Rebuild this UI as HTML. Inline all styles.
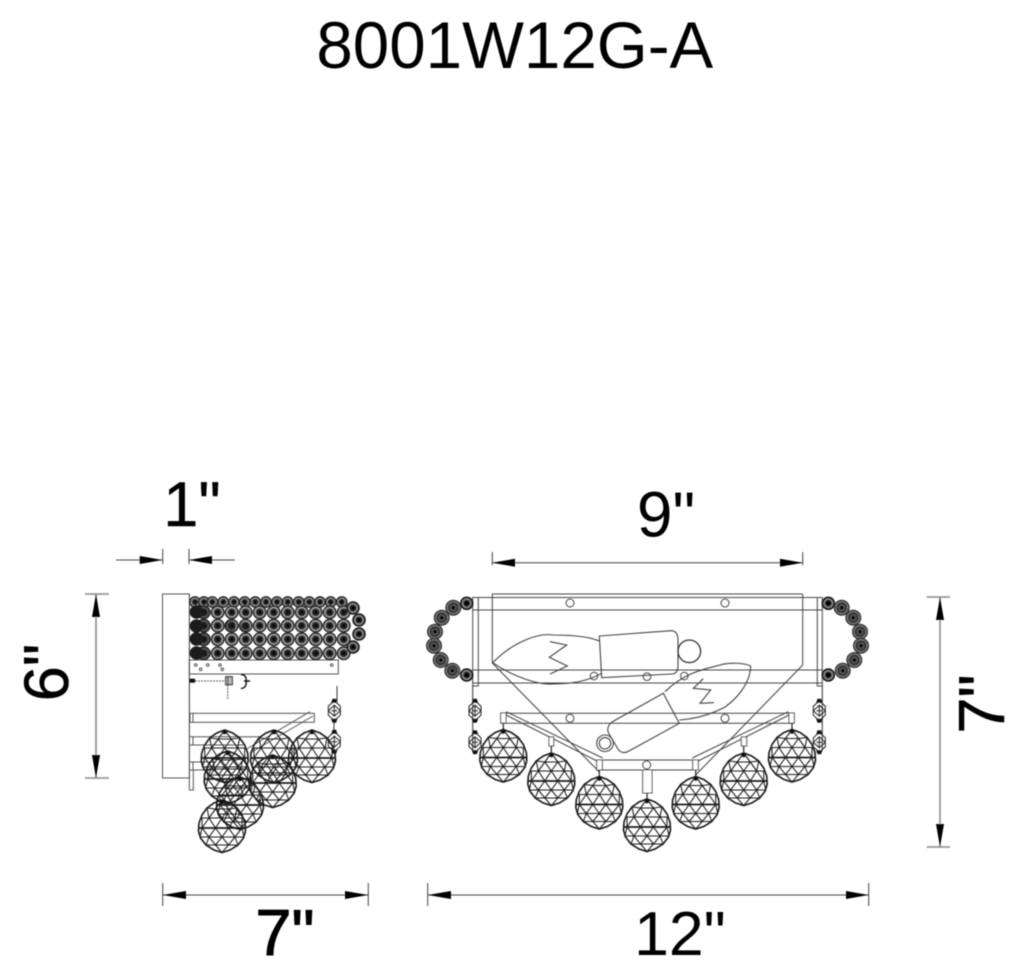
<!DOCTYPE html>
<html><head><meta charset="utf-8"><style>
html,body{margin:0;padding:0;background:#fff}
svg{display:block}
text{font-family:"Liberation Sans",sans-serif;fill:#000}
</style></head><body>
<svg xmlns="http://www.w3.org/2000/svg" width="1024" height="974" viewBox="0 0 1024 974">
<defs>
<filter id="b" x="-5%" y="-5%" width="110%" height="110%"><feGaussianBlur stdDeviation="0.4"/></filter>
<g id="ball" fill="none" stroke="#1a1a1a" stroke-width="1.050">
<path stroke-width="1.600" d="M0,-28L-8,-25L-15,-20L-20,-13L-23,-5L-23.500,3L-21.500,10L-16,17L-8,22L0,24.500L8,22L16,17L21.500,10L23.500,3L23,-5L20,-13L15,-20L8,-25Z"/>
<path d="M-20,-10H20M-22,9H22M-16,17H16"/>
<path stroke-width="1.700" d="M-23.500,0H23.500"/>
<path d="M0,-28L-13,-10L-6.500,0L-13,9L-6.500,17L0,24.500L6.500,17L13,9L6.500,0L13,-10L0,-28"/>
<path d="M0,-28L-6.500,-19L0,-10L-6.500,0L0,9L-6.500,17M0,-28L6.500,-19L0,-10L6.500,0L0,9L6.500,17"/>
<path d="M-6.500,-19L-13,-10L-20,0L-13,9L-16,17M6.500,-19L13,-10L20,0L13,9L16,17M-6.500,-19H6.500M-20,-10L-20,0M20,-10L20,0M-20,0L-22,9M20,0L22,9M-15,-20L-13,-10M15,-20L13,-10M-15,-20L-6.500,-19M15,-20L6.500,-19"/>
<circle cx="0" cy="-26" r="1.800" fill="#111"/>
</g>
<g id="bead"><circle r="7" fill="#2a2a2a"/><circle r="4.700" fill="none" stroke="#a8a8a8" stroke-width="1.200"/><circle r="2" fill="#111"/></g>
<g id="bead2"><circle r="5.900" fill="#2a2a2a"/><circle r="3.700" fill="none" stroke="#999" stroke-width="1"/><circle r="1.700" fill="#111"/></g>
<g id="gar"><circle r="8" fill="#333"/><circle r="6" fill="none" stroke="#aaa" stroke-width="1.200" stroke-dasharray="1 1"/><circle r="3.500" fill="#555"/><circle r="1.800" fill="#000"/></g>
<g id="gar2"><circle r="6.800" fill="#222"/><circle r="4.200" fill="none" stroke="#999" stroke-width="1.100"/><circle r="1.900" fill="#000"/></g>
<g id="dia" fill="none" stroke="#222" stroke-width="1">
<path d="M0,-10L6,-4.500V4.500L0,10L-6,4.500V-4.500Z"/>
<path d="M-6,0L0,-5.500L6,0L0,5.500ZM-3,0H3M0,-5.500V5.500"/>
<path d="M-2.500,-8.500H2.500L1.500,-11.500H-1.500ZM-2.500,8.500H2.500L1.500,11.500H-1.500Z" fill="#111"/>
</g>
<g id="row">
<use href="#bead" x="217.700"/><use href="#bead" x="231.700"/><use href="#bead" x="245.700"/><use href="#bead" x="259.700"/><use href="#bead" x="273.700"/><use href="#bead" x="287.700"/><use href="#bead" x="301.700"/><use href="#bead" x="315.700"/><use href="#bead" x="329.700"/><use href="#bead" x="343.700"/>
</g>
</defs>

<g filter="url(#b)">
<!-- dimensions -->
<g stroke="#444" stroke-width="1" fill="none">
<path d="M116,560H162.700M162.700,549V564M189,549V564M189,560H235"/>
<path d="M492.300,562.700H802.700M492.300,552V565M802.700,552V565"/>
<path d="M162.700,895H368.300M162.700,883V906M368.300,883V906"/>
<path d="M427.700,895H868.700M427.700,883V906M868.700,883V906"/>
</g>
<g stroke="#999" stroke-width="1.800" fill="none">
<path d="M96,594V778M85,594H109M85,778H109"/>
<path d="M940,597V847M926.700,597H950M926.700,847H950"/>
</g>
<g fill="#000">
<path d="M162.700,560L139.700,556V564ZM189,560L212,556V564Z"/>
<path d="M492.300,562.700L515,558.700V566.700ZM802.700,562.700L780,558.700V566.700Z"/>
<path d="M162.700,895L186,891V899ZM368.300,895L345,891V899Z"/>
<path d="M427.700,895L451,891V899ZM868.700,895L846,891V899Z"/>
<path d="M96,594L92,617H100ZM96,778L92,755H100Z"/>
<path d="M940,597L936,620H944ZM940,847L936,824H944Z"/>
</g>

<!-- side view -->
<g fill="none" stroke="#555" stroke-width="1">
<rect x="162.500" y="594" width="27" height="184"/>
<path d="M189.300,594V790M193.300,770V790H189.300"/>
<rect x="189.300" y="660" width="149" height="14"/>
<rect x="190" y="713.300" width="124.300" height="9"/>
<path d="M190,736.700H262M190,745H245M190,762H215M190,770H215M193,713.300V722.300M193,736.700V745M193,762V770"/>
<path d="M310,711.700L246.700,749M313,716L250,753"/>
<circle cx="195.700" cy="665" r="1.300"/><circle cx="207.700" cy="665" r="1.300"/><circle cx="220" cy="665" r="1.300"/><circle cx="200.700" cy="669.300" r="1.300"/><circle cx="222.300" cy="669.300" r="1.300"/><circle cx="331.700" cy="665" r="1.300"/>
</g>
<!-- side beads -->
<use href="#bead2" x="195" y="602"/><use href="#bead2" x="204" y="602"/><use href="#bead2" x="212.300" y="602"/><use href="#bead2" x="223.300" y="602"/><use href="#bead2" x="234" y="602"/><use href="#bead2" x="244.700" y="602"/><use href="#bead2" x="255.300" y="602"/><use href="#bead2" x="266" y="602"/><use href="#bead2" x="277" y="602"/><use href="#bead2" x="287.700" y="602"/><use href="#bead2" x="298.700" y="602"/><use href="#bead2" x="309.300" y="602"/><use href="#bead2" x="320" y="602"/><use href="#bead2" x="330.700" y="602"/><use href="#bead2" x="341.700" y="602"/>
<use href="#bead" x="203.700" y="612.300"/><use href="#bead" x="203.700" y="625.700"/><use href="#bead" x="203.700" y="639.300"/><use href="#bead" x="203.700" y="653.300"/>
<use href="#row" y="612.300"/><use href="#row" y="625.700"/><use href="#row" y="639.300"/><use href="#row" y="653.300"/>
<g fill="#1a1a1a">
<circle cx="196.500" cy="612" r="6.800"/><circle cx="196.500" cy="626" r="6.800"/><circle cx="196.500" cy="639" r="6.800"/><circle cx="196.500" cy="653" r="6.800"/>
<g opacity="0.5"><circle cx="204" cy="612" r="6.500"/><circle cx="204" cy="626" r="6.500"/><circle cx="204" cy="639" r="6.500"/><circle cx="204" cy="653" r="6.500"/><circle cx="230" cy="626" r="6"/><circle cx="245" cy="627" r="5"/></g>
</g>
<use href="#gar2" x="353" y="608"/><use href="#gar2" x="359" y="620"/><use href="#gar2" x="359" y="634"/><use href="#gar2" x="353" y="647"/>
<!-- screw -->
<rect x="189.300" y="678.700" width="5.700" height="4" fill="#111"/>
<path d="M195,681H226M227.700,685V700" stroke="#333" stroke-width="0.800" stroke-dasharray="2 1" fill="none"/>
<rect x="225.700" y="676.700" width="6.600" height="8" fill="#bbb" stroke="#111" stroke-width="1"/>
<path d="M228,677V685" stroke="#111"/>
<path d="M241,674.500Q247,675 246,681Q247,688 241,688.500M244,681H250" fill="none" stroke="#111" stroke-width="1.400"/>
<path d="M337,686V701M334,720V732" stroke="#333" stroke-width="1" fill="none"/>
<use href="#dia" x="334.300" y="710.700"/><use href="#dia" x="334.300" y="741.700"/>
<use href="#ball" x="224.700" y="758"/><use href="#ball" x="274" y="758"/><use href="#ball" x="312" y="758"/>
<use href="#ball" x="227.700" y="779"/><use href="#ball" x="272.700" y="783"/><use href="#ball" x="240" y="805"/><use href="#ball" x="222" y="828"/>

<!-- front view frame -->
<g fill="none" stroke="#444" stroke-width="1">
<path d="M492.300,594H802.700M473,597.500H822M473,610H822M473,670H822M473,683H822"/>
<path d="M472.700,597V686H478.300V597M817.300,597V686H822.300V597"/>
<path d="M492.300,594V663L599.300,772M802.700,594V665L695.700,775"/>
<circle cx="570" cy="603" r="4"/><circle cx="725" cy="603" r="4"/>
<path d="M501,713.300H794M501,723.300H794M597,760H698M597,770H698"/>
<circle cx="570" cy="718.300" r="4"/><circle cx="725" cy="718.300" r="4"/><circle cx="646.700" cy="765" r="4"/>
<path d="M506,711.700L602.700,758M506,715L597,761M788.300,711.700L692.300,758M789,715L698,761"/>
<rect x="500.700" y="713" width="5.300" height="10" fill="#fff"/><rect x="549" y="737" width="4.700" height="9" fill="#fff"/><rect x="596.700" y="760" width="5.600" height="10" fill="#fff"/>
<rect x="642.700" y="770" width="9.300" height="23" fill="#fff"/>
<rect x="692.700" y="760" width="5.600" height="10" fill="#fff"/><rect x="741.300" y="737" width="5.400" height="9" fill="#fff"/><rect x="789" y="713" width="5.300" height="10" fill="#fff"/>
<circle cx="594" cy="676" r="3.800"/><circle cx="647" cy="676.700" r="3.800"/><circle cx="684.300" cy="676" r="3.800"/>
</g>
<!-- bulbs -->
<g fill="none" stroke="#444" stroke-width="1.100">
<path d="M492.700,662.700C515,640 540,633 553,635C575,635 590,637 599.300,641M492.700,662.700C515,678 540,685 553,684C575,684 590,680 601.700,673.300"/>
<path d="M599.300,636L671,630.700Q678,630.700 678,640V666Q678,674 671.700,674L601.700,677.700Z"/>
<path d="M550,641.700L566.700,645L549.300,657.300L567.300,666L550,674"/>
<circle cx="689.300" cy="651.300" r="11.300" stroke="#333" stroke-width="1.300"/>
<path d="M750.700,666C745,663 730,662 720,665C705,669 685,672 665,691.700M750.700,666C750,685 735,700 725,707C710,715 695,719 679.300,720"/>
<path d="M663.300,693.300L679.300,723.300L629,751Q622,755 618,749L608.500,733Q606,727 612,722Z"/>
<path d="M703.300,678.700L693.300,688.300L710.700,690L700,703.300L714,702.700"/>
<circle cx="605" cy="743.300" r="8.300"/><circle cx="605" cy="743.300" r="5.700"/>
</g>
<!-- garlands -->
<use href="#gar2" x="466.700" y="603.300"/><use href="#gar" x="453.300" y="607.700"/><use href="#gar" x="441.700" y="617.700"/><use href="#gar" x="435" y="631.700"/><use href="#gar" x="434" y="645.700"/><use href="#gar" x="440.700" y="660"/><use href="#gar" x="452.300" y="670.700"/><use href="#gar2" x="466.700" y="675"/>
<use href="#gar2" x="828.300" y="603.300"/><use href="#gar" x="841.700" y="607.700"/><use href="#gar" x="853.300" y="617.700"/><use href="#gar" x="860" y="631.700"/><use href="#gar" x="861" y="645.700"/><use href="#gar" x="854.300" y="660"/><use href="#gar" x="842.700" y="670.700"/><use href="#gar2" x="828.300" y="675"/>
<!-- hangers -->
<path d="M472.700,686V750M822.300,686V750" stroke="#333" stroke-width="1" fill="none"/>
<use href="#dia" x="475" y="710.700"/><use href="#dia" x="475" y="742.300"/><use href="#dia" x="819.300" y="710.700"/><use href="#dia" x="819.300" y="742.300"/>
<path d="M503.300,723V730M551.300,746V755M599.300,770V778M647,793V803M695.700,770V778M743.700,746V755M792,723V730" stroke="#222" stroke-width="1.200"/>
<use href="#ball" x="503.300" y="757.500"/><use href="#ball" x="551.300" y="781"/><use href="#ball" x="599.300" y="804.500"/><use href="#ball" x="647" y="827"/><use href="#ball" x="695.700" y="804.500"/><use href="#ball" x="743.700" y="781"/><use href="#ball" x="792" y="757.500"/>

<!-- labels -->
<text x="514.800" y="68" font-size="65.500" text-anchor="middle">8001W12G-A</text>
<text x="192" y="526" font-size="63" text-anchor="middle" stroke="#000" stroke-width="0.400">1"</text>
<text x="666" y="536.500" font-size="64" text-anchor="middle">9"</text>
<text x="285" y="955" font-size="65" text-anchor="middle" stroke="#000" stroke-width="1">7"</text>
<text x="680" y="955" font-size="62.500" text-anchor="middle">12"</text>
<text transform="translate(68,672.500) rotate(-90)" font-size="63" text-anchor="middle" stroke="#000" stroke-width="0.600">6"</text>
<text transform="translate(1004,704) rotate(-90)" font-size="65" text-anchor="middle" stroke="#000" stroke-width="0.600">7"</text>
</g>
</svg>
</body></html>
